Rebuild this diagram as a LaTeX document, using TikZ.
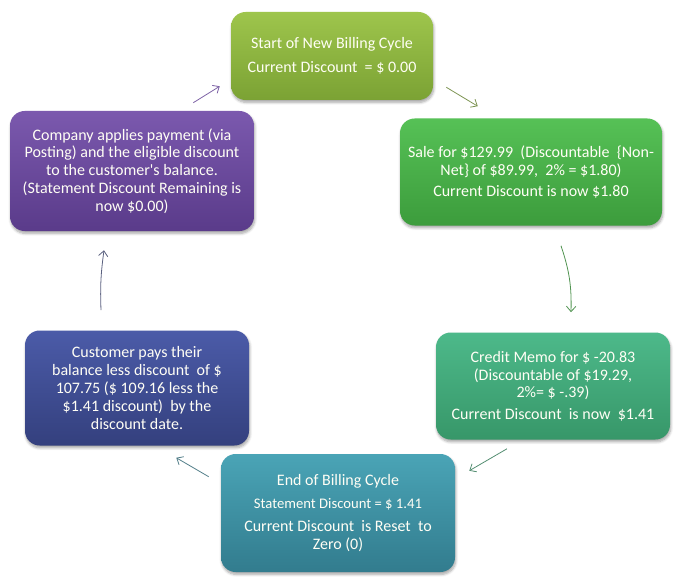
\documentclass[tikz,border=0pt]{standalone}
\usepackage{fontspec}
\setmainfont{Carlito}
\usetikzlibrary{arrows.meta,shadows.blur}
\definecolor{oliveT}{HTML}{9EC54C}
\definecolor{oliveB}{HTML}{7BA234}
\definecolor{greenT}{HTML}{56C156}
\definecolor{greenB}{HTML}{3C9C3C}
\definecolor{mintT}{HTML}{4DB98A}
\definecolor{mintB}{HTML}{379769}
\definecolor{tealT}{HTML}{4AA4B6}
\definecolor{tealB}{HTML}{327C8E}
\definecolor{navyT}{HTML}{4B5BA8}
\definecolor{navyB}{HTML}{34407E}
\definecolor{plumT}{HTML}{7B59AE}
\definecolor{plumB}{HTML}{5A3B8A}
\begin{document}
\begin{tikzpicture}[x=0.75pt, y=-0.75pt,
    stage/.style n args={4}{rounded corners=11pt, inner sep=0pt, minimum width=#1, minimum height=#2,
      top color=#3, bottom color=#4, draw=none, text=white!96!yellow, align=center,
      font=\fontsize{12}{13.4}\selectfont,
      blur shadow={shadow xshift=0.6pt, shadow yshift=-1.8pt, shadow blur steps=6, shadow opacity=35}},
    arr/.style={-{Straight Barb[length=4pt,width=7pt]}, line width=0.6pt}]
  \useasboundingbox (0,0) rectangle (678,581);
  \node (start) [stage={151.5pt}{66pt}{oliveT}{oliveB}] at (332,56)
        {Start of New Billing Cycle\\[5pt] Current Discount~ = \$ 0.00};
  \node (sale) [stage={196.5pt}{80.25pt}{greenT}{greenB}] at (531,172)
        {Sale for \$129.99~ (Discountable~ \{Non-\\ Net\} of \$89.99,~ 2\% = \$1.80)\\[2.5pt] Current Discount is now \$1.80};
  \node (memo) [stage={175.5pt}{80.25pt}{mintT}{mintB}] at (553,386)
        {Credit Memo for \$ -20.83\\ (Discountable of \$19.29,\\ 2\%= \$ -.39)\\[2.5pt] Current Discount~ is now~ \$1.41};
  \node (end) [stage={175.5pt}{88.5pt}{tealT}{tealB}] at (338,513)
        {End of Billing Cycle\\[4pt] {\fontsize{11}{12}\selectfont Statement Discount = \$ 1.41}\\[4pt] Current Discount~ is Reset~ to\\ Zero (0)};
  \node (pays) [stage={168pt}{86.25pt}{navyT}{navyB}] at (137,388)
        {Customer pays their\\ balance less discount~ of \$\\ 107.75 (\$ 109.16 less the\\ \$1.41 discount)~ by the\\ discount date.};
  \node (apply) [stage={183pt}{90pt}{plumT}{plumB}] at (132,171)
        {Company applies payment (via\\ Posting) and the eligible discount\\ to the customer\textquotesingle s balance.\\ (Statement Discount Remaining is\\ now \$0.00)};
  \draw[arr, color=oliveB!60!gray] ([shift={(13,-13)}]start.south east) -- ([shift={(78,-12)}]sale.north west);
  \draw[arr, color=greenB!70!gray] ([shift={(30,20)}]sale.south) to [bend left=10] ([shift={(18,-20)}]memo.north);
  \draw[arr, color=mintB!60!gray] ([shift={(-46,9)}]memo.south) -- ([shift={(14,17)}]end.north east);
  \draw[arr, color=tealB!60!gray] ([shift={(-12,23)}]end.north west) -- ([shift={(-73,12)}]pays.south east);
  \draw[arr, color=navyB!50!gray] ([shift={(-36,-20)}]pays.north) to [bend left=5] ([shift={(-28,19)}]apply.south);
  \draw[arr, color=plumT!80!gray] ([shift={(-61,-8)}]apply.north east) -- ([shift={(-11,-14)}]start.south west);
\end{tikzpicture}
\end{document}
